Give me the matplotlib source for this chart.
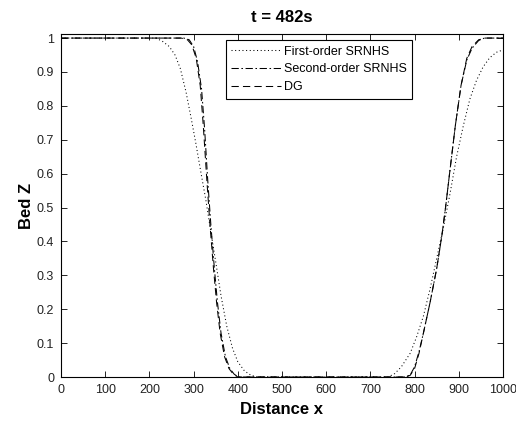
import matplotlib
matplotlib.use("Agg")
import matplotlib.pyplot as plt
import numpy as np

plt.rcParams['font.family'] = ['Liberation Sans', 'DejaVu Sans']

# First-order SRNHS (dotted)
x_first = [0, 215, 230, 245, 258, 270, 283, 295, 305, 317, 328, 340, 350, 362, 375, 388, 400, 415, 430, 445,
           740, 755, 770, 790, 805, 820, 835, 850, 865, 880, 895, 910, 925, 940, 955, 970, 985, 1000]
y_first = [1, 1, 0.99, 0.975, 0.95, 0.91, 0.84, 0.76, 0.69, 0.60, 0.52, 0.42, 0.34, 0.24, 0.15, 0.085, 0.045, 0.018, 0.005, 0.0,
           0.0, 0.01, 0.03, 0.07, 0.12, 0.18, 0.26, 0.35, 0.44, 0.54, 0.65, 0.74, 0.82, 0.875, 0.915, 0.942, 0.958, 0.965]

# Second-order SRNHS (dash-dot)
x_second = [0, 278, 290, 300, 309, 318, 325, 332, 339, 347, 354, 362, 372, 382, 392, 402,
            778, 790, 800, 810, 820, 835, 850, 862, 870, 880, 892, 905, 918, 930, 945, 958, 1000]
y_second = [1, 1, 0.995, 0.975, 0.93, 0.85, 0.73, 0.58, 0.45, 0.32, 0.22, 0.13, 0.06, 0.025, 0.008, 0.0,
            0.0, 0.006, 0.03, 0.075, 0.13, 0.22, 0.32, 0.42, 0.50, 0.61, 0.74, 0.86, 0.935, 0.97, 0.993, 1.0, 1.0]

# DG (dashed)
x_dg = [0, 272, 286, 296, 306, 315, 322, 330, 337, 345, 352, 360, 370, 380, 390, 400,
        780, 790, 800, 810, 820, 835, 850, 862, 870, 880, 892, 905, 918, 930, 945, 960, 1000]
y_dg = [1, 1, 0.995, 0.98, 0.94, 0.86, 0.74, 0.58, 0.45, 0.32, 0.22, 0.13, 0.06, 0.025, 0.008, 0.0,
        0.0, 0.005, 0.025, 0.07, 0.13, 0.22, 0.32, 0.42, 0.50, 0.61, 0.74, 0.86, 0.94, 0.975, 0.995, 1.0, 1.0]

xticks = [0, 100, 200, 300, 400, 500, 600, 700, 800, 900, 1000]
yticks = [0, 0.1, 0.2, 0.3, 0.4, 0.5, 0.6, 0.7, 0.8, 0.9, 1]
yticklabels = ['0', '0.1', '0.2', '0.3', '0.4', '0.5', '0.6', '0.7', '0.8', '0.9', '1']

fig = plt.figure(figsize=(5.16, 4.21), dpi=100)
ax = fig.add_axes([61/516, 44/421, 442/516, 343/421])

ax.plot(x_first, y_first, color='black', lw=0.75, linestyle=(0, (1, 2.5)), label='First-order SRNHS')
ax.plot(x_second, y_second, color='black', lw=0.75, linestyle=(0, (7, 2.5, 1.5, 2.5)), label='Second-order SRNHS')
ax.plot(x_dg, y_dg, color='black', lw=0.75, linestyle=(0, (7, 4)), label='DG')

ax.set_xlim(0, 1000)
ax.set_ylim(0, 1.012)
ax.set_xticks(xticks)
ax.set_xticklabels([str(t) for t in xticks])
ax.set_yticks(yticks)
ax.set_yticklabels(yticklabels)
ax.tick_params(direction='in', length=4, width=0.6, top=True, right=True, labelsize=9, pad=5,
               labelcolor='#222222')
for s in ax.spines.values():
    s.set_linewidth(0.8)

ax.set_xlabel('Distance x', fontsize=12, fontweight='bold', labelpad=4)
ax.set_ylabel('Bed Z', fontsize=12, fontweight='bold', labelpad=2)
ax.set_title('t = 482s', fontsize=12, fontweight='bold', pad=9)

leg = ax.legend(loc='upper left', bbox_to_anchor=(0.373, 0.982), fontsize=9, frameon=True,
                fancybox=False, edgecolor='black', framealpha=1, handlelength=4.0,
                handletextpad=0.2, borderpad=0.45, labelspacing=0.45, borderaxespad=0)
leg.get_frame().set_linewidth(0.8)

fig.savefig('out.png', dpi=100)
